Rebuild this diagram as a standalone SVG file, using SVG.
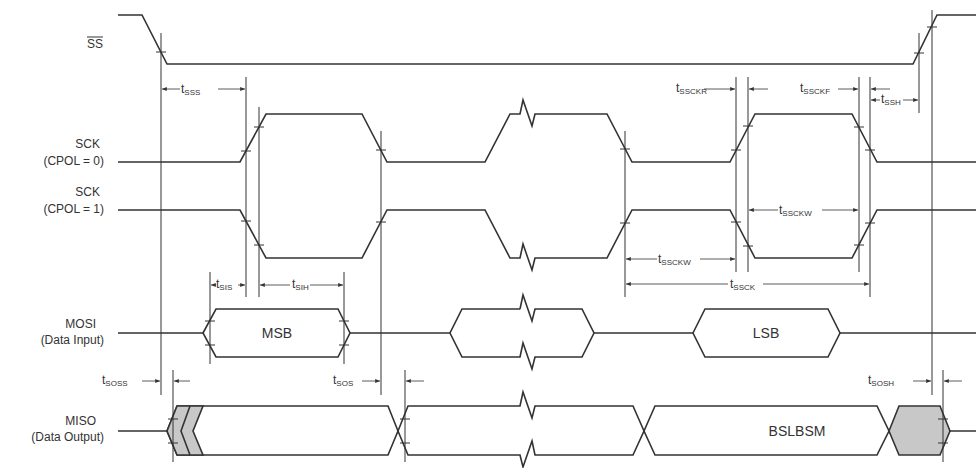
<svg xmlns="http://www.w3.org/2000/svg" width="976" height="468" viewBox="0 0 976 468">
<defs>
<marker id="ar" viewBox="0 0 10 10" refX="10" refY="5" markerWidth="6" markerHeight="6" orient="auto-start-reverse"><path d="M0,1 L10,5 L0,9 Z" fill="#333"/></marker>
<style>
.w{fill:none;stroke:#333;stroke-width:1.6}
.h{fill:#fff;stroke:#333;stroke-width:1.6}
.g{fill:#c8c8c8;stroke:#333;stroke-width:1.6}
.v{stroke:#333;stroke-width:1}
.t{stroke:#333;stroke-width:1}
.d{stroke:#333;stroke-width:0.8;fill:none}
.lbl{font-family:"Liberation Sans",Arial,sans-serif;font-size:12px;fill:#333}
.tm{font-family:"Liberation Sans",Arial,sans-serif;font-size:12px;fill:#333}
.sb{font-size:8px}
.big{font-family:"Liberation Sans",Arial,sans-serif;font-size:14px;fill:#333}
</style>
</defs>
<rect width="976" height="468" fill="#fff"/>
<g id="labels">
<text class="lbl" x="103" y="48" text-anchor="end">SS</text><line x1="87" y1="37" x2="103" y2="37" class="t"/>
<text class="lbl" x="100" y="148" text-anchor="end">SCK</text>
<text class="lbl" x="104" y="165" text-anchor="end">(CPOL = 0)</text>
<text class="lbl" x="100" y="196" text-anchor="end">SCK</text>
<text class="lbl" x="104" y="213" text-anchor="end">(CPOL = 1)</text>
<text class="lbl" x="96" y="328" text-anchor="end">MOSI</text>
<text class="lbl" x="104" y="344" text-anchor="end">(Data Input)</text>
<text class="lbl" x="96" y="425" text-anchor="end">MISO</text>
<text class="lbl" x="104" y="441" text-anchor="end">(Data Output)</text>
</g>
<g id="ss"><path class="w" d="M118,15 H142 L167,64 H913 L937,15 H976"/></g>
<g id="sck0"><path class="w" d="M118,162 H240 L266,114 H362 L387,162 H485 L510,114 H520 L523,100 L532,126 L535,114 H607 L632,162 H730 L755,114 H852 L877,162 H976"/></g>
<g id="sck1"><path class="w" d="M118,210 H240 L266,258 H362 L387,210 H485 L510,258 H520 L523,244 L532,270 L535,258 H607 L632,210 H730 L755,258 H852 L877,210 H976"/></g>
<g id="mosi">
<path class="w" d="M118,333 H203 M350,333 H450 M594,333 H693 M840,333 H976"/>
<polygon class="h" points="203,333 216,309 338,309 350,333 338,357 216,357"/>
<text class="big" x="277" y="338" text-anchor="middle">MSB</text>
<path class="w" d="M520,309 H462 L450,333 L462,357 H520 L523,343 L532,369 L535,357 H582 L594,333 L582,309 H535 L532,321 L523,295 L520,309"/>
<polygon class="h" points="693,333 705,309 828,309 840,333 828,357 705,357"/>
<text class="big" x="766" y="338" text-anchor="middle">LSB</text>
</g>
<g id="miso">
<path class="w" d="M118,431 H167 M950,431 H976"/>
<polygon class="h" points="167,431 177,406 388,406 398,431 388,455 177,455"/>
<polygon class="g" points="167,431 177,406 203,406 193,431 203,455 177,455"/>
<path class="w" d="M190,406 L181,431 L190,455"/>
<path class="w" d="M398,431 L408,406 H520 L523,392 L532,418 L535,406 H633 L644,431 L633,455 H535 L532,441 L523,467 L520,455 H408 Z"/>
<polygon class="h" points="644,431 655,406 877,406 889,431 877,455 655,455"/>
<text class="big" x="797" y="436" text-anchor="middle">BSLBSM</text>
<polygon class="g" points="889,431 899,406 940,406 950,431 940,455 899,455"/>
</g>
<g id="connectors">
<path class="v" d="M161,33 V395 M246,77 V297 M259,107 V297 M381,131 V395 M625,131 V297 M736,77 V272 M748,77 V272 M859,77 V272 M870,77 V297 M919,33 V113 M932,10 V395 M210,272 V364 M344,272 V364 M173,370 V462 M405,370 V462 M943,370 V462"/>
<path class="t" d="M156,52 H166 M914,53 H924 M927,27 H937
M241,151 H251 M254,127 H264 M376,150 H386 M620,149 H630 M731,150 H741 M743,126 H753 M854,127 H864 M865,150 H875
M241,221 H251 M254,245 H264 M376,222 H386 M620,223 H630 M731,222 H741 M743,246 H753 M854,245 H864 M865,223 H875
M205,321 H215 M205,345 H215 M339,321 H349 M339,345 H349
M168,419 H178 M168,443 H178 M400,419 H410 M400,443 H410 M938,419 H948 M938,443 H948"/>
<line class="d" x1="162" y1="89" x2="180" y2="89" marker-start="url(#ar)"/><line class="d" x1="218" y1="89" x2="245" y2="89" marker-end="url(#ar)"/>
<text class="tm" x="181" y="93">t<tspan class="sb" dy="2">SSS</tspan></text>
<line class="d" x1="704" y1="89" x2="735" y2="89" marker-end="url(#ar)"/><line class="d" x1="768" y1="89" x2="749" y2="89" marker-end="url(#ar)"/>
<text class="tm" x="676" y="92">t<tspan class="sb" dy="2">SSCKR</tspan></text>
<line class="d" x1="838" y1="89" x2="858" y2="89" marker-end="url(#ar)"/><line class="d" x1="890" y1="89" x2="871" y2="89" marker-end="url(#ar)"/>
<text class="tm" x="800" y="92">t<tspan class="sb" dy="2">SSCKF</tspan></text>
<line class="d" x1="871" y1="100" x2="880" y2="100" marker-start="url(#ar)"/><line class="d" x1="903" y1="100" x2="918" y2="100" marker-end="url(#ar)"/>
<text class="tm" x="881" y="103">t<tspan class="sb" dy="2">SSH</tspan></text>
<line class="d" x1="749" y1="210" x2="778" y2="210" marker-start="url(#ar)"/><line class="d" x1="822" y1="210" x2="858" y2="210" marker-end="url(#ar)"/>
<text class="tm" x="779" y="214">t<tspan class="sb" dy="2">SSCKW</tspan></text>
<line class="d" x1="626" y1="259" x2="657" y2="259" marker-start="url(#ar)"/><line class="d" x1="700" y1="259" x2="735" y2="259" marker-end="url(#ar)"/>
<text class="tm" x="658" y="263">t<tspan class="sb" dy="2">SSCKW</tspan></text>
<line class="d" x1="626" y1="284" x2="728" y2="284" marker-start="url(#ar)"/><line class="d" x1="763" y1="284" x2="869" y2="284" marker-end="url(#ar)"/>
<text class="tm" x="730" y="288">t<tspan class="sb" dy="2">SSCK</tspan></text>
<line class="d" x1="211" y1="285" x2="216" y2="285" marker-start="url(#ar)"/><line class="d" x1="238" y1="285" x2="245" y2="285" marker-end="url(#ar)"/>
<text class="tm" x="216" y="288">t<tspan class="sb" dy="2">SIS</tspan></text>
<line class="d" x1="260" y1="285" x2="290" y2="285" marker-start="url(#ar)"/><line class="d" x1="310" y1="285" x2="343" y2="285" marker-end="url(#ar)"/>
<text class="tm" x="292" y="288">t<tspan class="sb" dy="2">SIH</tspan></text>
<line class="d" x1="142" y1="381" x2="160" y2="381" marker-end="url(#ar)"/><line class="d" x1="190" y1="381" x2="174" y2="381" marker-end="url(#ar)"/>
<text class="tm" x="102" y="384">t<tspan class="sb" dy="2">SOSS</tspan></text>
<line class="d" x1="362" y1="381" x2="380" y2="381" marker-end="url(#ar)"/><line class="d" x1="424" y1="381" x2="406" y2="381" marker-end="url(#ar)"/>
<text class="tm" x="333" y="384">t<tspan class="sb" dy="2">SOS</tspan></text>
<line class="d" x1="913" y1="381" x2="931" y2="381" marker-end="url(#ar)"/><line class="d" x1="962" y1="381" x2="944" y2="381" marker-end="url(#ar)"/>
<text class="tm" x="868" y="384">t<tspan class="sb" dy="2">SOSH</tspan></text>
</g>
</svg>
